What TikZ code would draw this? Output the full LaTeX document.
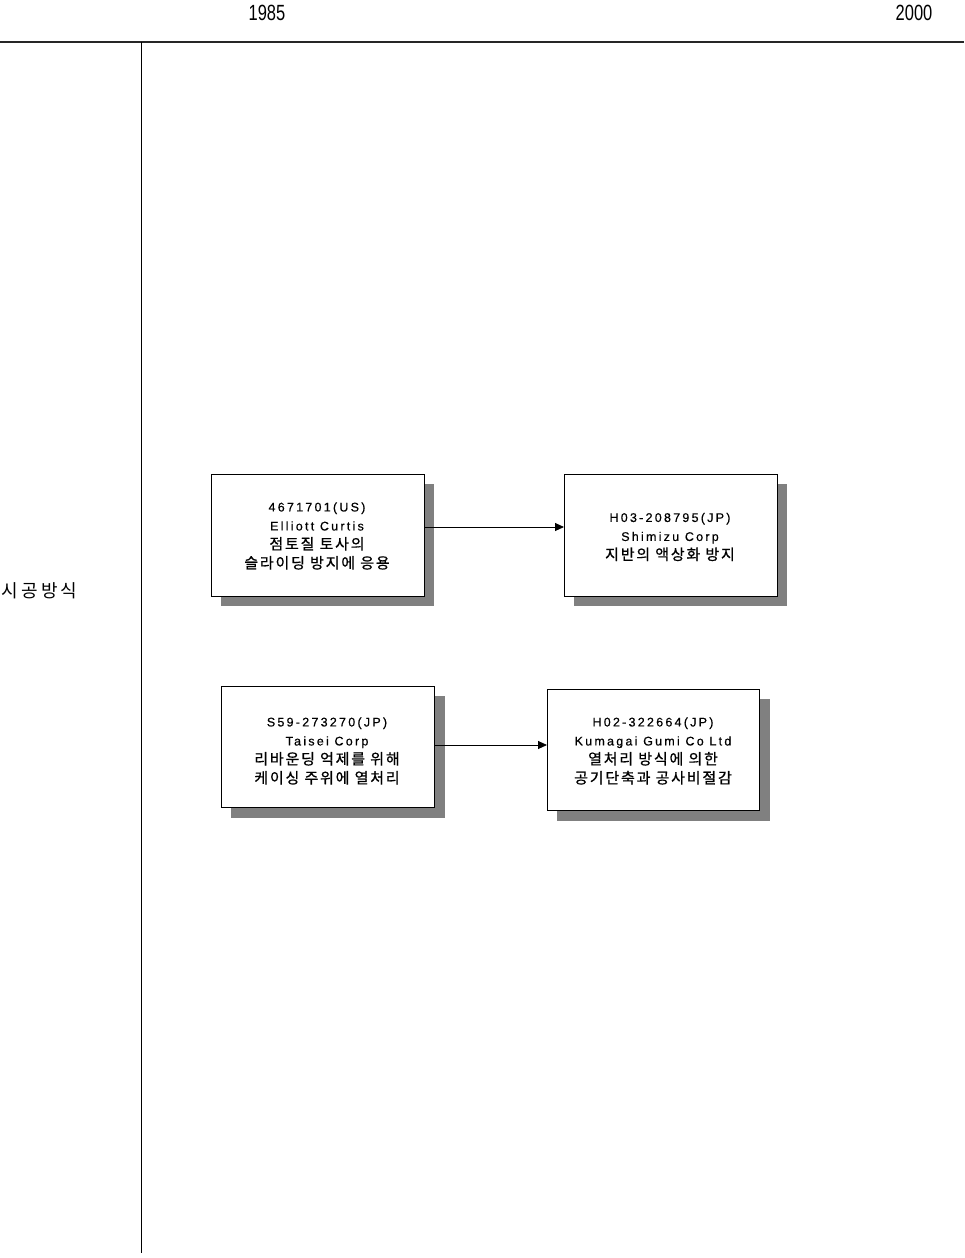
\documentclass[tikz,border=0pt]{standalone}
\usepackage{fontspec}
\setmainfont{Liberation Sans}
\newfontfamily\kr{Noto Sans CJK KR}[LetterSpace=12,FakeBold=0.8]
\newfontfamily\krlab{Noto Sans CJK KR}[LetterSpace=18]
\newfontfamily\lat{Liberation Sans}[LetterSpace=18,FakeBold=0.5]
\usetikzlibrary{arrows.meta}
\begin{document}
\begin{tikzpicture}[x=1pt,y=-1pt,
  boxst/.style={draw=black, line width=1.2pt, fill=white, inner sep=0pt, anchor=north west},
  shad/.style={fill=black!50, draw=none},
  txt/.style={align=center, font=\fontsize{12.5}{19}\selectfont},
  conn/.style={line width=0.9pt, -{Triangle[length=9pt,width=8pt]}},
  year/.style={font=\fontsize{22}{22}\selectfont, xscale=0.75}]
\newcommand\krl{\kr\fontsize{15}{19}\selectfont}
\useasboundingbox (0,0) rectangle (964,1258);
% axes
\draw[line width=1.6pt, black!85] (0,42) -- (964,42);
\draw[line width=1pt] (141,42) -- (141,1253);
\node[year] (y1985) at (267,13) {1985};
\node[year] (y2000) at (914,13) {2000};
\node[font=\fontsize{18}{18}\selectfont\krlab, anchor=west] (cat) at (-2,591) {시공방식};
% shadows
\fill[shad] (221,484) rectangle (434,606);
\fill[shad] (574,484) rectangle (787,606);
\fill[shad] (231,696) rectangle (445,818);
\fill[shad] (557,699) rectangle (770,821);
% boxes
\node[boxst, minimum width=213pt, minimum height=122pt] (b1) at (211,474) {};
\node[boxst, minimum width=213pt, minimum height=122pt] (b2) at (564,474) {};
\node[boxst, minimum width=213pt, minimum height=121pt] (b3) at (221,686) {};
\node[boxst, minimum width=212pt, minimum height=121pt] (b4) at (547,689) {};
% texts
\node[txt] (t1) at (317,536) {{\lat 4671701(US)}\\{\lat Elliott Curtis}\\{\krl 점토질 토사의}\\{\krl 슬라이딩 방지에 응용}};
\node[txt] (t2) at (670,537) {{\lat H03-208795(JP)}\\{\lat Shimizu Corp}\\{\krl 지반의 액상화 방지}};
\node[txt] (t3) at (327,751) {{\lat S59-273270(JP)}\\{\lat Taisei Corp}\\{\krl 리바운딩 억제를 위해}\\{\krl 케이싱 주위에 열처리}};
\node[txt] (t4) at (653,751) {{\lat H02-322664(JP)}\\{\lat Kumagai Gumi Co Ltd}\\{\krl 열처리 방식에 의한}\\{\krl 공기단축과 공사비절감}};
% connectors
\draw[conn] (b1.east |- 0,527) -- (b2.west |- 0,527);
\draw[conn] (b3.east |- 0,745) -- (b4.west |- 0,745);
\end{tikzpicture}
\end{document}
